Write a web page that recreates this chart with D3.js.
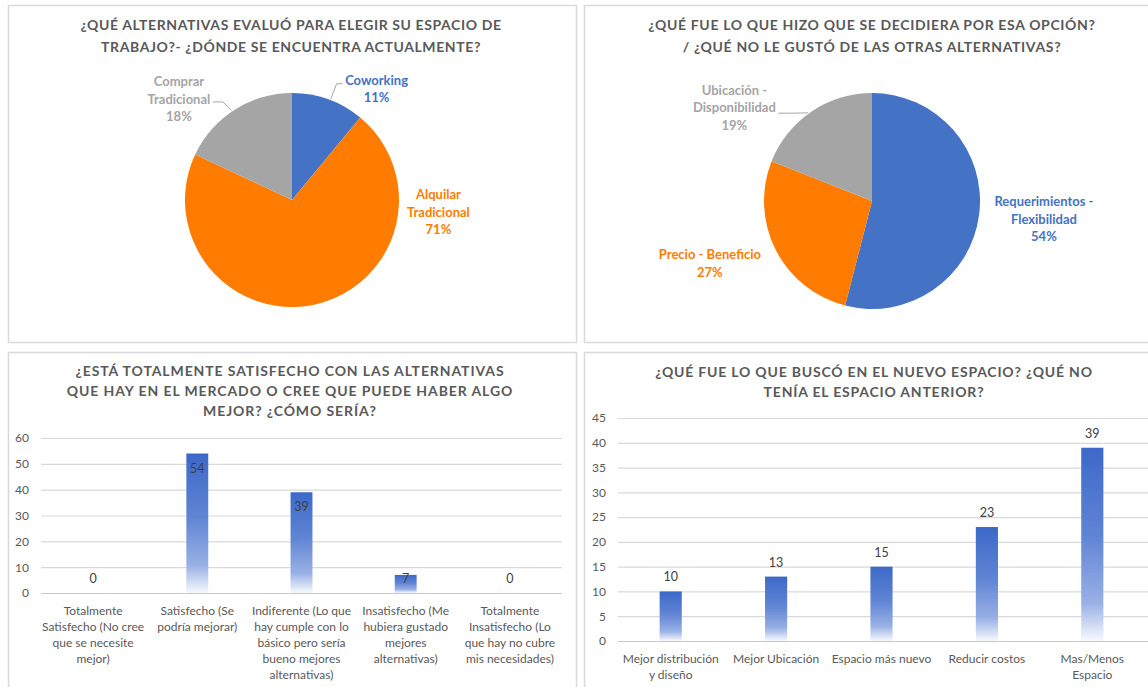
<!DOCTYPE html>
<html>
<head>
<meta charset="utf-8">
<script src="https://cdn.jsdelivr.net/npm/d3@7"></script>
<style>
  body { margin: 0; background: #fff; }
  svg { display: block; font-family: Lato, "Open Sans", sans-serif; }
</style>
</head>
<body>
<svg id="chart" width="1148" height="687"></svg>
<script>
// --- data ---
const altLabels = ['Coworking', 'Alquilar\nTradicional', 'Comprar\nTradicional'];
const altShares = [11, 71, 18];

const razonLabels = ['Requerimientos -\nFlexibilidad', 'Precio - Beneficio', 'Ubicación -\nDisponibilidad'];
const razonShares = [54, 27, 19];

const satisfLabels = [
  'Totalmente\nSatisfecho (No cree\nque se necesite\nmejor)',
  'Satisfecho (Se\npodría mejorar)',
  'Indiferente (Lo que\nhay cumple con lo\nbásico pero sería\nbueno mejores\nalternativas)',
  'Insatisfecho (Me\nhubiera gustado\nmejores\nalternativas)',
  'Totalmente\nInsatisfecho (Lo\nque hay no cubre\nmis necesidades)'
];
const satisfValues = [0, 54, 39, 7, 0];
const satisfTicks = [0, 10, 20, 30, 40, 50, 60];

const buscoLabels = [
  'Mejor distribución\ny diseño',
  'Mejor Ubicación',
  'Espacio más nuevo',
  'Reducir costos',
  'Mas/Menos\nEspacio'
];
const buscoValues = [10, 13, 15, 23, 39];
const buscoTicks = [0, 5, 10, 15, 20, 25, 30, 35, 40, 45];

const titles = [
  ['¿QUÉ ALTERNATIVAS EVALUÓ PARA ELEGIR SU ESPACIO DE', 'TRABAJO?- ¿DÓNDE SE ENCUENTRA ACTUALMENTE?'],
  ['¿QUÉ FUE LO QUE HIZO QUE SE DECIDIERA POR ESA OPCIÓN?', '/ ¿QUÉ NO LE GUSTÓ DE LAS OTRAS ALTERNATIVAS?'],
  ['¿ESTÁ TOTALMENTE SATISFECHO CON LAS ALTERNATIVAS', 'QUE HAY EN EL MERCADO O CREE QUE PUEDE HABER ALGO', 'MEJOR? ¿CÓMO SERÍA?'],
  ['¿QUÉ FUE LO QUE BUSCÓ EN EL NUEVO ESPACIO? ¿QUÉ NO', 'TENÍA EL ESPACIO ANTERIOR?']
];

const sliceColors = ['#4472C4', '#FF7C00', '#A5A5A5'];

// --- drawing ---
const svg = d3.select('#chart');
const textGrey = '#595959';

const grad = svg.append('defs').append('linearGradient')
  .attr('id', 'barGrad').attr('x1', 0).attr('y1', 0).attr('x2', 0).attr('y2', 1);
[[0, '#3C69C8'], [0.45, '#5F84D4'], [0.8, '#98B0E5'], [1, '#F7F9FE']].forEach(s => {
  grad.append('stop').attr('offset', s[0]).attr('stop-color', s[1]);
});

// panel frames
const panels = [
  { x: 8, y: 5, w: 568, h: 337 },
  { x: 584, y: 5, w: 580, h: 337 },
  { x: 8, y: 352, w: 568, h: 350 },
  { x: 584, y: 352, w: 580, h: 350 }
];
svg.selectAll('rect.frame').data(panels).enter().append('rect')
  .attr('class', 'frame')
  .attr('x', d => d.x + 0.5).attr('y', d => d.y + 0.5)
  .attr('width', d => d.w).attr('height', d => d.h)
  .attr('fill', 'none').attr('stroke', '#D9D9D9').attr('stroke-width', 1.5);

function multiline(g, str, x, y, lh) {
  const t = g.append('text').attr('x', x).attr('y', y);
  str.split('\n').forEach((s, i) => {
    t.append('tspan').attr('x', x).attr('dy', i ? lh : 0).text(s);
  });
  return t;
}

function drawTitle(lines, cx, y, lh, spacing) {
  const t = svg.append('text')
    .attr('text-anchor', 'middle')
    .attr('fill', textGrey)
    .attr('font-size', 14)
    .attr('font-weight', 'bold')
    .attr('letter-spacing', spacing);
  lines.forEach((s, i) => {
    t.append('tspan').attr('x', cx).attr('y', y + i * lh).text(s);
  });
}

drawTitle(titles[0], 291, 30, 22, 0.6);
drawTitle(titles[1], 872, 30, 22, 0.65);
drawTitle(titles[2], 290, 376, 20, 0.9);
drawTitle(titles[3], 874, 377, 20, 0.8);

// pies: label placement (polar, degrees clockwise from 12 o'clock) follows the reference
function drawPie(cx, cy, r, labels, shares, layout) {
  const g = svg.append('g').attr('transform', `translate(${cx},${cy})`);
  const arcs = d3.pie().sort(null).value(d => d)(shares);
  const arc = d3.arc().innerRadius(0).outerRadius(r);
  g.selectAll('path').data(arcs).enter().append('path')
    .attr('d', arc)
    .attr('fill', (d, i) => sliceColors[i]);

  const rad = a => a * Math.PI / 180;
  arcs.forEach((d, i) => {
    const L = layout[i];
    const lx = Math.sin(rad(L.ang)) * L.dist;
    const ly = -Math.cos(rad(L.ang)) * L.dist;
    const lines = (labels[i] + '\n' + shares[i] + '%').split('\n');
    const top = ly - (lines.length - 1) * 17.5 / 2 + 4;
    multiline(g, lines.join('\n'), lx, top, 17.5)
      .attr('text-anchor', 'middle')
      .attr('font-size', 13)
      .attr('font-weight', 'bold')
      .attr('fill', sliceColors[i]);
    if (L.leader) {
      const la = L.leader;
      const p0 = [Math.sin(rad(la.ang)) * (r + 1), -Math.cos(rad(la.ang)) * (r + 1)];
      g.append('path')
        .attr('d', d3.line()([p0, [lx + la.ex, ly + la.ey], [lx + la.tx, ly + la.ey]]))
        .attr('fill', 'none')
        .attr('stroke', '#A6A6A6')
        .attr('stroke-width', 1);
    }
  });
}

drawPie(292, 200, 107, altLabels, altShares, [
  { ang: 37.5, dist: 139, leader: { ang: 21, ex: -40, ey: -6, tx: -34 } },
  { ang: 95, dist: 147 },
  { ang: 311.5, dist: 151, leader: { ang: 326, ex: 44, ey: 2, tx: 34 } }
]);
drawPie(872, 201, 108, razonLabels, razonShares, [
  { ang: 96.3, dist: 173 },
  { ang: 248.7, dist: 174 },
  { ang: 304, dist: 166, leader: { ang: 324, ex: 58, ey: 5, tx: 44 } }
]);

// bar charts
function drawBars(opt) {
  const x = d3.scaleBand().domain(opt.labels).range([opt.x0, opt.x1])
    .paddingInner(0.79).paddingOuter(0.395);
  const y = d3.scaleLinear().domain([0, d3.max(opt.ticks)]).range([opt.y0, opt.y1]);
  const g = svg.append('g');

  g.selectAll('line.grid').data(opt.ticks).enter().append('line')
    .attr('x1', opt.x0).attr('x2', opt.gridEnd)
    .attr('y1', d => y(d) + 0.5).attr('y2', d => y(d) + 0.5)
    .attr('stroke', d => d === 0 ? '#C8C8C8' : '#D9D9D9')
    .attr('stroke-width', 1.2);

  const yAxis = g.append('g')
    .attr('transform', `translate(${opt.x0 - 12},0)`)
    .call(d3.axisLeft(y).tickValues(opt.ticks).tickSize(0).tickPadding(0));
  yAxis.select('.domain').remove();
  yAxis.selectAll('text').attr('fill', textGrey).attr('font-size', 12)
    .attr('font-family', 'Lato, sans-serif');

  g.selectAll('rect.bar').data(opt.values).enter().append('rect')
    .attr('class', 'bar')
    .attr('x', (d, i) => x(opt.labels[i]))
    .attr('y', d => y(d))
    .attr('width', x.bandwidth())
    .attr('height', d => y(0) - y(d))
    .attr('fill', 'url(#barGrad)');

  g.selectAll('text.val').data(opt.values).enter().append('text')
    .attr('class', 'val')
    .attr('x', (d, i) => x(opt.labels[i]) + x.bandwidth() / 2)
    .attr('y', d => opt.inside ? Math.min(y(d) + 19, y(0) - 10) : y(d) - 10)
    .attr('text-anchor', 'middle')
    .attr('font-size', 12.5)
    .attr('fill', '#404040')
    .text(d => d);

  opt.labels.forEach(lab => {
    multiline(g, lab, x(lab) + x.bandwidth() / 2, opt.y0 + opt.labelGap, 16)
      .attr('text-anchor', 'middle')
      .attr('font-size', 12)
      .attr('fill', textGrey);
  });
}

drawBars({
  labels: satisfLabels, values: satisfValues, ticks: satisfTicks,
  x0: 41, x1: 562, gridEnd: 562, y0: 593, y1: 438, inside: true, labelGap: 22
});
drawBars({
  labels: buscoLabels, values: buscoValues, ticks: buscoTicks,
  x0: 618, x1: 1145, gridEnd: 1148, y0: 641, y1: 418, inside: false, labelGap: 22
});
</script>
</body>
</html>
